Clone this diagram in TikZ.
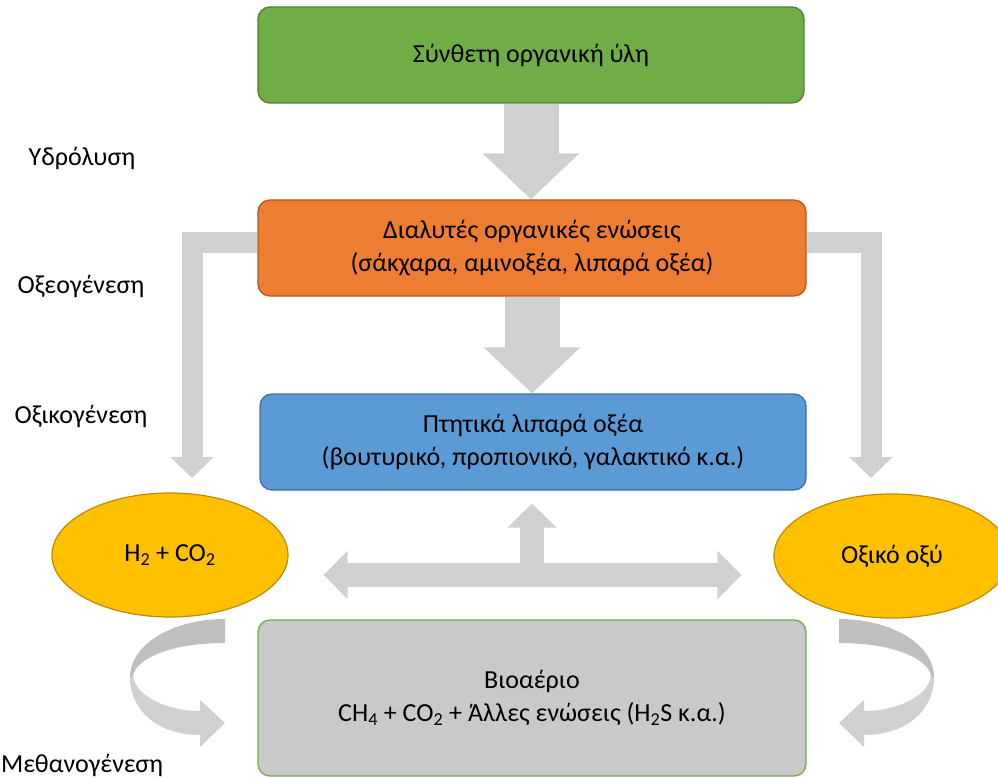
\documentclass[tikz,border=0pt]{standalone}
\usepackage{fontspec}
\setmainfont{Carlito}
\usetikzlibrary{arrows.meta,shapes.geometric,calc,backgrounds}
\definecolor{grn}{HTML}{70AD47}
\definecolor{grnd}{HTML}{507E32}
\definecolor{org}{HTML}{ED7D31}
\definecolor{orgd}{HTML}{AE5A21}
\definecolor{blu}{HTML}{5B9BD5}
\definecolor{blud}{HTML}{41719C}
\definecolor{gry}{HTML}{C9C9C9}
\definecolor{yel}{HTML}{FFC000}
\definecolor{yeld}{HTML}{BC8C00}
\definecolor{agray}{HTML}{D0D0D0}
\definecolor{adark}{HTML}{BFBFBF}
\tikzset{
  box/.style={rectangle, rounded corners=12pt, line width=1.3pt, align=center,
    inner sep=0pt, text=black},
  oval/.style={ellipse, fill=yel, draw=yeld, line width=1.2pt, inner sep=0pt,
    minimum width=236pt, minimum height=124pt},
  lbl/.style={anchor=base, inner sep=0pt},
  fat/.style={draw=agray},
}
\newcommand{\curvedarrow}{%
  \fill[adark] (225,619) .. controls (172,619) and (130,645) .. (130,677)
    -- (133,677) .. controls (134,660) and (168,643) .. (225,643) -- cycle;
  \fill[agray] (130,677) .. controls (130,712) and (160,735) .. (200,735)
    -- (200,747) -- (225,723) -- (200,700) -- (200,711)
    .. controls (168,711) and (137,697) .. (133,677) -- cycle;
}
\begin{document}
\begin{tikzpicture}[x=1pt,y=-1pt,font=\fontsize{26}{33}\selectfont]
\useasboundingbox (0,0) rectangle (998,778);
\clip (0,0) rectangle (998,778);

% nodes
\node[box, fill=grn, draw=grnd, minimum width=546pt, minimum height=96pt] (syn) at (531,55) {Σύνθετη οργανική ύλη};
\node[box, fill=org, draw=orgd, minimum width=548pt, minimum height=96pt] (dia) at (532,248) {Διαλυτές οργανικές ενώσεις\\(σάκχαρα, αμινοξέα, λιπαρά οξέα)};
\node[box, fill=blu, draw=blud, minimum width=546pt, minimum height=96pt] (ptit) at (533,442) {Πτητικά λιπαρά οξέα\\(βουτυρικό, προπιονικό, γαλακτικό κ.α.)};
\node[box, fill=gry, draw=grn, minimum width=548pt, minimum height=156pt] (bio) at (532,698) {Βιοαέριο\\CH\textsubscript{4} + CO\textsubscript{2} + Άλλες ενώσεις (H\textsubscript{2}S κ.α.)};
\node[oval] (h2) at (170,555) {H\textsubscript{2} + CO\textsubscript{2}};
\node[oval] (ox) at (892,556) {Οξικό οξύ};

% side labels
\node[lbl] (hyd) at (82,166) {Υδρόλυση};
\node[lbl] (oxeo) at (81,293) {Οξεογένεση};
\node[lbl] (oxik) at (81,423) {Οξικογένεση};
\node[lbl, anchor=base west] (meth) at (1,772) {Μεθανογένεση};

% coordinates
\coordinate (lA) at (192,478);
\coordinate (rA) at (871,478);
\coordinate (T) at (532,575);

% block arrows (behind the boxes)
\begin{pgfonlayer}{background}
\draw[fat, line width=55pt, -{Triangle[width=94pt,length=46pt]}] (syn.south) -- (syn.south |- dia.north);
\draw[fat, line width=55pt, -{Triangle[width=94pt,length=46pt]}] (dia.south) -- (dia.south |- ptit.north);
\draw[fat, line width=21pt, line join=miter, -{Triangle[width=42pt,length=21pt]}] ([yshift=6pt]dia.west) -- (192,242) -- (lA);
\draw[fat, line width=21pt, line join=miter, -{Triangle[width=42pt,length=21pt]}] ([yshift=6pt]dia.east) -- (871,242) -- (rA);
\draw[fat, line width=24pt, {Triangle[width=47pt,length=24pt]}-{Triangle[width=47pt,length=24pt]}, shorten <=35pt, shorten >=32pt] (h2.east |- T) -- (ox.west |- T);
\draw[fat, line width=24pt, -{Triangle[width=48pt,length=24pt]}, shorten >=13pt] (T) -- (T |- ptit.south);
\end{pgfonlayer}

% curved arrows
\curvedarrow
\begin{scope}[shift={(1064,0)}, xscale=-1]
\curvedarrow
\end{scope}
\end{tikzpicture}
\end{document}
